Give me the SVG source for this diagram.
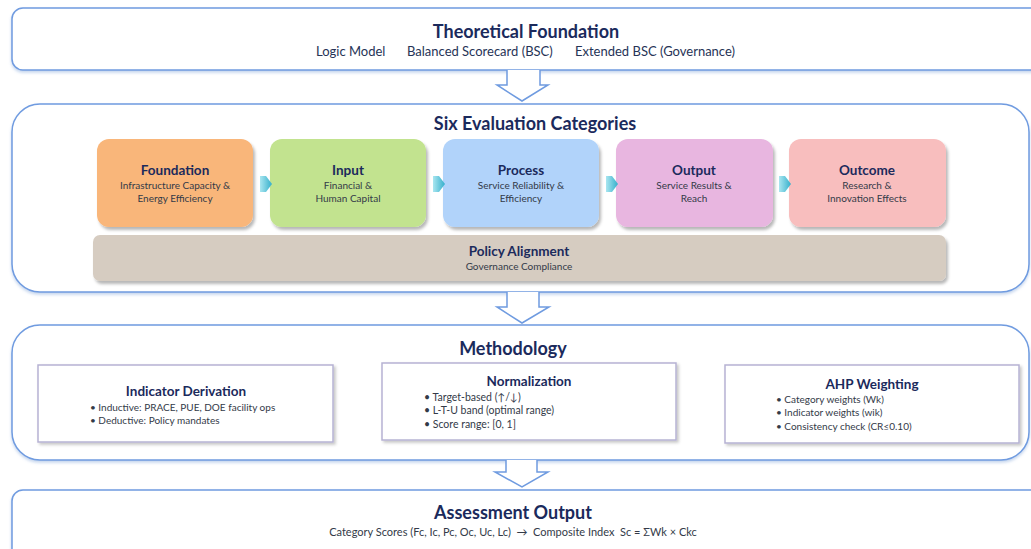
<svg xmlns="http://www.w3.org/2000/svg" width="1031" height="549" viewBox="0 0 1031 549">
  <defs>
    <filter id="glow" x="-5%" y="-10%" width="110%" height="120%">
      <feGaussianBlur in="SourceAlpha" stdDeviation="1.5"/>
      <feOffset dx="0" dy="1.5" result="b"/>
      <feFlood flood-color="#7FA3D8" flood-opacity="0.45"/>
      <feComposite in2="b" operator="in"/>
      <feMerge><feMergeNode/><feMergeNode in="SourceGraphic"/></feMerge>
    </filter>
    <filter id="cardShadow" x="-10%" y="-10%" width="125%" height="130%">
      <feGaussianBlur in="SourceAlpha" stdDeviation="1.6"/>
      <feOffset dx="1.5" dy="2.5" result="b"/>
      <feFlood flood-color="#000" flood-opacity="0.28"/>
      <feComposite in2="b" operator="in"/>
      <feMerge><feMergeNode/><feMergeNode in="SourceGraphic"/></feMerge>
    </filter>
    <filter id="panelShadow" x="-5%" y="-10%" width="112%" height="125%">
      <feGaussianBlur in="SourceAlpha" stdDeviation="1.5"/>
      <feOffset dx="1.5" dy="2" result="b"/>
      <feFlood flood-color="#000" flood-opacity="0.22"/>
      <feComposite in2="b" operator="in"/>
      <feMerge><feMergeNode/><feMergeNode in="SourceGraphic"/></feMerge>
    </filter>
    <linearGradient id="chev" x1="0" y1="0" x2="1" y2="0">
      <stop offset="0" stop-color="#A9E6F0"/>
      <stop offset="1" stop-color="#35AFCB"/>
    </linearGradient>
  </defs>
  <style>
    .frame { fill: #FFFFFF; stroke: #6F9BE0; stroke-width: 1.5; }
    .card { stroke: none; }
    .panel { fill: #FFFFFF; stroke: #B6B3D3; stroke-width: 1.5; }
    .blockArrow { fill: #FFFFFF; stroke: #6F9BE0; stroke-width: 1.5; stroke-linejoin: miter; }
    text { font-family: Lato, "Open Sans", "Liberation Sans", sans-serif; white-space: pre; }
    .h1 { font-size: 18px; font-weight: 700; fill: #1B2A5C; text-anchor: middle; }
    .h2 { font-size: 13.5px; font-weight: 700; fill: #1B2A5C; text-anchor: middle; }
    .sub { font-size: 10px; fill: #333A48; text-anchor: middle; }
    .formula { font-size: 11px; fill: #333A48; text-anchor: middle; }
    .lead { font-size: 13px; fill: #263356; }
    .bul { font-size: 10px; fill: #333A48; }
    .bulL { font-size: 10.5px; fill: #333A48; }
  </style>

  <!-- Theoretical Foundation -->
  <g id="theory">
    <rect class="frame" x="12" y="8" width="1035" height="62" rx="11" filter="url(#glow)"/>
    <text class="h1" x="526" y="38">Theoretical Foundation</text>
    <text class="lead" x="316" y="56">Logic Model</text>
    <text class="lead" x="407" y="56">Balanced Scorecard (BSC)</text>
    <text class="lead" x="575" y="56">Extended BSC (Governance)</text>
  </g>

  <!-- Six Evaluation Categories -->
  <g id="categories">
    <rect class="frame" x="12" y="104" width="1017" height="188" rx="28" filter="url(#glow)"/>
    <text class="h1" x="535" y="130">Six Evaluation Categories</text>
  </g>

  <g id="foundation">
    <rect class="card" x="97" y="139" width="156" height="88" rx="12" fill="#F9B67A" filter="url(#cardShadow)"/>
    <text class="h2" x="175" y="175">Foundation</text>
    <text class="sub" x="175" y="189">Infrastructure Capacity &amp;</text>
    <text class="sub" x="175" y="202">Energy Efficiency</text>
  </g>
  <g id="input">
    <rect class="card" x="270" y="139" width="156" height="88" rx="12" fill="#C2E38F" filter="url(#cardShadow)"/>
    <text class="h2" x="348" y="175">Input</text>
    <text class="sub" x="348" y="189">Financial &amp;</text>
    <text class="sub" x="348" y="202">Human Capital</text>
  </g>
  <g id="process">
    <rect class="card" x="443" y="139" width="156" height="88" rx="12" fill="#B1D3FA" filter="url(#cardShadow)"/>
    <text class="h2" x="521" y="175">Process</text>
    <text class="sub" x="521" y="189">Service Reliability &amp;</text>
    <text class="sub" x="521" y="202">Efficiency</text>
  </g>
  <g id="output">
    <rect class="card" x="616" y="139" width="157" height="88" rx="12" fill="#E8B6E0" filter="url(#cardShadow)"/>
    <text class="h2" x="694" y="175">Output</text>
    <text class="sub" x="694" y="189">Service Results &amp;</text>
    <text class="sub" x="694" y="202">Reach</text>
  </g>
  <g id="outcome">
    <rect class="card" x="789" y="139" width="157" height="88" rx="12" fill="#F8BEBE" filter="url(#cardShadow)"/>
    <text class="h2" x="867" y="175">Outcome</text>
    <text class="sub" x="867" y="189">Research &amp;</text>
    <text class="sub" x="867" y="202">Innovation Effects</text>
  </g>
  <g id="policy">
    <rect class="card" x="93" y="235" width="853" height="46" rx="7" fill="#D6CCC1" filter="url(#cardShadow)"/>
    <text class="h2" x="519" y="256">Policy Alignment</text>
    <text class="sub" x="519" y="270">Governance Compliance</text>
  </g>

  <!-- Methodology -->
  <g id="methodology">
    <rect class="frame" x="12" y="325" width="1017" height="135" rx="28" filter="url(#glow)"/>
    <text class="h1" x="513" y="355">Methodology</text>
  </g>
  <g id="derivation">
    <rect class="panel" x="38" y="365" width="295" height="77" filter="url(#panelShadow)"/>
    <text class="h2" x="186" y="396">Indicator Derivation</text>
    <text class="bul" x="90" y="411">• Inductive: PRACE, PUE, DOE facility ops</text>
    <text class="bul" x="90" y="424">• Deductive: Policy mandates</text>
  </g>
  <g id="normalization">
    <rect class="panel" x="382" y="363" width="294" height="77" filter="url(#panelShadow)"/>
    <text class="h2" x="529" y="386">Normalization</text>
    <text class="bulL" x="424" y="401">• Target-based (↑/↓)</text>
    <text class="bulL" x="424" y="414">• L-T-U band (optimal range)</text>
    <text class="bulL" x="424" y="428">• Score range: [0, 1]</text>
  </g>
  <g id="ahp">
    <rect class="panel" x="725" y="365" width="294" height="78" filter="url(#panelShadow)"/>
    <text class="h2" x="872" y="389">AHP Weighting</text>
    <text class="bul" x="776" y="403">• Category weights (Wk)</text>
    <text class="bul" x="776" y="416">• Indicator weights (wik)</text>
    <text class="bul" x="776" y="430">• Consistency check (CR≤0.10)</text>
  </g>

  <!-- Assessment Output -->
  <g id="assessment">
    <rect class="frame" x="12" y="490" width="1035" height="80" rx="11" filter="url(#glow)"/>
    <text class="h1" x="513" y="519">Assessment Output</text>
    <text class="formula" x="513" y="536">Category Scores (Fc, Ic, Pc, Oc, Uc, Lc)  →  Composite Index  Sc = ΣWk × Ckc</text>
  </g>

  <!-- Connectors: block arrows between stages and chevrons between categories -->
  <g id="connectors">
    <path class="blockArrow" d="M507,70 V85 H497 L522,101 L548,85 H540 V70"/>
    <path class="blockArrow" d="M507,292 V307 H497 L522,323 L549,307 H539 V292"/>
    <path class="blockArrow" d="M506,460 V472 H495 L522,487 L548,472 H537 V460"/>
    <g fill="url(#chev)">
      <path d="M260,176 H266 L272,184 L266,192 H260 Z"/>
      <path d="M433,176 H439 L445,184 L439,192 H433 Z"/>
      <path d="M606,176 H612 L618,184 L612,192 H606 Z"/>
      <path d="M779,176 H785 L791,184 L785,192 H779 Z"/>
    </g>
  </g>
</svg>
